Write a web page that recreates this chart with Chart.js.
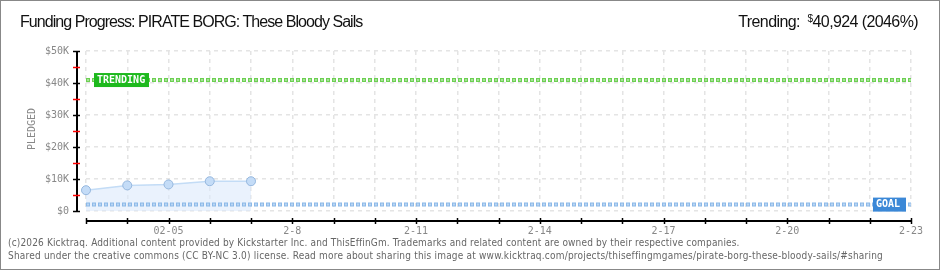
<!DOCTYPE html>
<html>
<head>
<meta charset="utf-8">
<script src="https://cdn.jsdelivr.net/npm/chart.js@4.4.1/dist/chart.umd.min.js"></script>
<style>
  html, body { margin: 0; padding: 0; background: #fff; }
  #wrap { position: relative; width: 940px; height: 270px; box-sizing: border-box; border: 1px solid #888; overflow: hidden; }
  #busChart { position: absolute; left: 0; top: 0; }
  .title { position: absolute; left: 19px; top: 12px; font: 16px "Liberation Sans", sans-serif; letter-spacing: -0.95px; color: #111; white-space: nowrap; }
  .trend { position: absolute; right: 21px; top: 12px; font: 16px "Liberation Sans", sans-serif; letter-spacing: -0.6px; color: #111; white-space: nowrap; }
  .trend sup { font-size: 10px; vertical-align: 5px; }
  .foot { position: absolute; left: 7px; font: 10px "DejaVu Sans Condensed", sans-serif; letter-spacing: 0.15px; color: #666; white-space: nowrap; }
</style>
</head>
<body>
<div id="wrap">
  <canvas id="busChart" width="940" height="270"></canvas>
  <div class="title">Funding Progress: PIRATE BORG: These Bloody Sails</div>
  <div class="trend">Trending:&nbsp; <sup>$</sup>40,924 (2046%)</div>
  <div class="foot" style="top:236px">(c)2026 Kicktraq. Additional content provided by Kickstarter Inc. and ThisEffinGm. Trademarks and related content are owned by their respective companies.</div>
  <div class="foot" style="top:249px; letter-spacing:0.2px">Shared under the creative commons (CC BY-NC 3.0) license. Read more about sharing this image at www.kicktraq.com/projects/thiseffingmgames/pirate-borg-these-bloody-sails/#sharing</div>
</div>
<script>
//chart data
let days = ['02-03','02-04','02-05','02-06','02-07','02-08','02-09','02-10','02-11','02-12','02-13',
            '02-14','02-15','02-16','02-17','02-18','02-19','02-20','02-21','02-22','02-23'];
let dayLabels = ['','','02-05','','','2-8','','','2-11','','','2-14','','','2-17','','','2-20','','','2-23'];
let pledged = [6500, 8000, 8300, 9300, 9300];
let goal = 2000;
let trending = 40924;
let yTickLabels = ['$0','$10K','$20K','$30K','$40K','$50K'];

//repeat a constant across every day so the library draws it as a line
function flatLine(value){
  let arr = [];
  for(let i = 0; i < days.length; i++){
    arr.push(value);
  }
  return arr;
}

let pixelFont = { family: 'DejaVu Sans Mono', size: 10 };

//draw offset axes, tags and the axis title
let kicktraqExtras = {
  id: 'kicktraqExtras',
  afterDraw(chart){
    let ctx = chart.ctx;
    let xs = chart.scales.x;
    let ys = chart.scales.y;
    let area = chart.chartArea;
    ctx.save();

    //y axis
    let ax = area.left - 9;
    ctx.strokeStyle = '#000';
    ctx.lineWidth = 2;
    ctx.beginPath();
    ctx.moveTo(ax, ys.getPixelForValue(50000));
    ctx.lineTo(ax, ys.getPixelForValue(0) + 1);
    ctx.stroke();
    for(let v = 0; v <= 50000; v += 5000){
      let py = Math.round(ys.getPixelForValue(v)) + 0.5;
      ctx.strokeStyle = (v % 10000 === 0) ? '#000' : '#f00';
      ctx.lineWidth = 1.5;
      ctx.beginPath();
      ctx.moveTo(ax - 4, py);
      ctx.lineTo(ax + 3, py);
      ctx.stroke();
    }

    //x axis
    let ay = area.bottom + 10;
    ctx.strokeStyle = '#000';
    ctx.lineWidth = 2;
    ctx.beginPath();
    ctx.moveTo(xs.getPixelForValue(0), ay);
    ctx.lineTo(xs.getPixelForValue(days.length - 1), ay);
    ctx.stroke();
    ctx.lineWidth = 1.5;
    for(let i = 0; i < days.length; i++){
      let px = Math.round(xs.getPixelForValue(i)) + 0.5;
      ctx.beginPath();
      ctx.moveTo(px, ay - 3);
      ctx.lineTo(px, ay + 3);
      ctx.stroke();
    }

    //tags
    ctx.font = 'bold 10px "DejaVu Sans Mono"';
    ctx.textBaseline = 'middle';
    let ty = ys.getPixelForValue(trending);
    ctx.fillStyle = '#1db91d';
    ctx.fillRect(area.left + 8, ty - 7, 55, 14);
    ctx.fillStyle = '#fff';
    ctx.textAlign = 'left';
    ctx.fillText('TRENDING', area.left + 11, ty);

    let gy = ys.getPixelForValue(goal);
    ctx.fillStyle = '#3b88d7';
    ctx.fillRect(area.right - 38, gy - 7, 33, 14);
    ctx.fillStyle = '#fff';
    ctx.fillText('GOAL', area.right - 35, gy);

    //axis title
    ctx.translate(31, (area.top + area.bottom) / 2 - 2);
    ctx.rotate(-Math.PI / 2);
    ctx.font = '10px "DejaVu Sans Mono"';
    ctx.fillStyle = '#888';
    ctx.textAlign = 'center';
    ctx.fillText('PLEDGED', 0, 0);
    ctx.restore();
  }
};

let elChart = document.getElementById('busChart').getContext('2d');
let busChart = new Chart(elChart, {
  type: 'line',
  data: {
    labels: days,
    datasets: [
      {
        label: 'trending',
        data: flatLine(trending),
        borderColor: '#a6e396',
        borderWidth: 2,
        borderDash: [2, 4],
        borderDashOffset: -1,
        pointRadius: 0,
        fill: false,
        order: 0
      },
      {
        label: 'trending edge',
        data: flatLine(trending),
        borderColor: '#6ccf52',
        borderWidth: 4,
        borderDash: [4, 2],
        pointRadius: 0,
        fill: false,
        order: 1
      },
      {
        label: 'goal',
        data: flatLine(goal),
        borderColor: '#b9d6f4',
        borderWidth: 2,
        borderDash: [2, 4],
        borderDashOffset: -1,
        pointRadius: 0,
        fill: false,
        order: 0
      },
      {
        label: 'goal edge',
        data: flatLine(goal),
        borderColor: '#8cb9e8',
        borderWidth: 4,
        borderDash: [4, 2],
        pointRadius: 0,
        fill: false,
        order: 1
      },
      {
        label: 'pledged',
        data: pledged,
        borderColor: '#c3dcf6',
        borderWidth: 1.5,
        backgroundColor: 'rgba(220, 234, 251, 0.6)',
        fill: 'origin',
        tension: 0,
        pointRadius: 4.5,
        pointBackgroundColor: '#c4dcf7',
        pointBorderColor: '#95b7de',
        pointBorderWidth: 1,
        order: 2
      }
    ]
  },
  options: {
    responsive: false,
    animation: false,
    layout: { padding: { top: 50, right: 30, bottom: 0, left: 0 } },
    plugins: { legend: { display: false }, tooltip: { enabled: false } },
    scales: {
      x: {
        offset: false,
        afterFit: function(scale){ scale.height = 60; },
        grid: { color: '#e4e4e4', lineWidth: 1.5, drawTicks: false },
        border: { display: false, dash: [4, 4] },
        ticks: {
          autoSkip: false,
          maxRotation: 0,
          padding: 14,
          color: '#888',
          font: pixelFont,
          callback: function(value, index){ return dayLabels[index]; }
        }
      },
      y: {
        min: 0,
        max: 50000,
        afterFit: function(scale){ scale.width = 85; },
        grid: { color: '#e4e4e4', lineWidth: 1.5, drawTicks: false },
        border: { display: false, dash: [4, 4] },
        ticks: {
          stepSize: 10000,
          padding: 17,
          color: '#888',
          font: pixelFont,
          callback: function(value){ return yTickLabels[value / 10000]; }
        }
      }
    }
  },
  plugins: [kicktraqExtras]
});
</script>
</body>
</html>
